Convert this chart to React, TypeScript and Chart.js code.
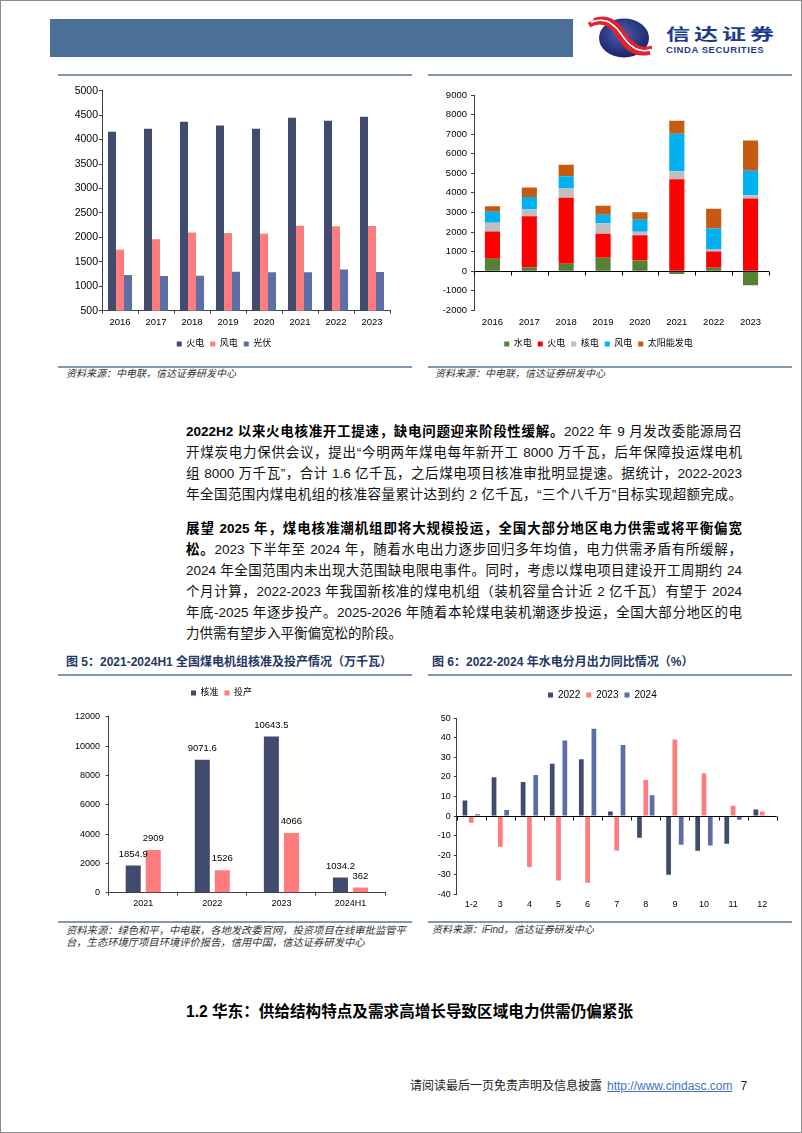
import React, { useEffect, useRef } from "react";
import { Chart, registerables } from "chart.js";

Chart.register(...registerables);

// ---------- data ----------
const years = ["2016", "2017", "2018", "2019", "2020", "2021", "2022", "2023"];
const thermalHours = [4160, 4220, 4365, 4290, 4220, 4447, 4386, 4467];
const windHours = [1747, 1959, 2102, 2088, 2075, 2238, 2225, 2232];
const solarHours = [1229, 1209, 1216, 1298, 1284, 1284, 1345, 1291];

const hydroAdd = [630, 200, 375, 680, 545, -150, 170, -715];
const thermalAdd = [1396, 2606, 3371, 1226, 1294, 4700, 835, 3712];
const nuclearAdd = [443, 340, 477, 545, 170, 408, 102, 170];
const windAdd = [562, 647, 630, 426, 613, 1907, 1073, 1243];
const solarAdd = [289, 477, 579, 459, 392, 664, 1004, 1550];

const coalPeriods = ["2021", "2022", "2023", "2024H1"];
const coalApproved = [1854.9, 9071.6, 10643.5, 1034.2];
const coalCommissioned = [2909, 1526, 4066, 362];

const months = ["1-2", "3", "4", "5", "6", "7", "8", "9", "10", "11", "12"];
const hydro2022 = [8.0, 19.8, 17.4, 26.8, 29.0, 2.4, -11.1, -30.0, -17.7, -14.1, 3.4];
const hydro2023 = [-3.4, -15.7, -26.1, -32.9, -34.1, -17.6, 18.4, 39.2, 21.8, 5.3, 2.4];
const hydro2024 = [0.9, 3.1, 21.0, 38.7, 44.7, 36.3, 10.6, -14.7, -15.0, -1.9, null];

// ---------- styles ----------
const FONT = '"Liberation Sans", Arial, "Noto Sans CJK SC", sans-serif';
const AXIS = "#404040";
const NAVY = "#404b6d";
const SALMON = "#ff7c7c";
const SLATE = "#5b6ea6";
const LINE = "#8497b0";
const TITLE = "#1f3864";

const tf = (size: number) => ({ family: FONT, size });

const yAxis = (min: number, max: number, step: number, width: number, size: number, pad: number, stacked = false) => ({
  min,
  max,
  stacked,
  ticks: { stepSize: step, font: tf(size), color: "#000", padding: pad, callback: (v: any) => String(v) },
  grid: { drawOnChartArea: false, drawTicks: true, tickLength: 3, color: AXIS, tickColor: AXIS },
  border: { display: true, color: AXIS, width: 1 },
  afterFit: (s: any) => {
    s.width = width;
  },
});

const xAxisLine = (height: number, size: number, pad: number) => ({
  ticks: { font: tf(size), color: "#000", padding: pad, maxRotation: 0, autoSkip: false },
  grid: { drawOnChartArea: false, drawTicks: true, tickLength: 3, color: AXIS, tickColor: AXIS, offset: true },
  border: { display: true, color: AXIS, width: 1 },
  afterFit: (s: any) => {
    s.height = height;
  },
});

const xAxisFree = (height: number, size: number, pad: number, stacked = false) => ({
  stacked,
  ticks: { font: tf(size), color: "#000", padding: pad, maxRotation: 0, autoSkip: false },
  grid: { display: false, drawTicks: false, tickLength: 0 },
  border: { display: false },
  afterFit: (s: any) => {
    s.height = height;
  },
});

const padAxis = (height: number) => ({
  type: "linear",
  position: "top",
  display: true,
  ticks: { display: false },
  grid: { display: false, drawTicks: false, tickLength: 0 },
  border: { display: false },
  afterFit: (s: any) => {
    s.height = height;
  },
});

const legendOpts = (position: string, size: number) => ({
  position,
  labels: { boxWidth: 5, boxHeight: 5, padding: 6, color: "#000", font: tf(size) },
});

// zero line with tick marks at category boundaries
const zeroLine = {
  id: "zeroLine",
  afterDatasetsDraw(chart: any) {
    const x = chart.scales.x;
    const y = chart.scales.y;
    const y0 = Math.round(y.getPixelForValue(0)) + 0.5;
    const n = chart.data.labels.length;
    const ctx = chart.ctx;
    ctx.save();
    ctx.strokeStyle = "#000";
    ctx.lineWidth = 1;
    ctx.beginPath();
    ctx.moveTo(x.left, y0);
    ctx.lineTo(x.right, y0);
    for (let i = 0; i <= n; i++) {
      const px = Math.round(x.left + ((x.right - x.left) * i) / n) + 0.5;
      ctx.moveTo(px, y0);
      ctx.lineTo(px, y0 + 4);
    }
    ctx.stroke();
    ctx.restore();
  },
};

const valueLabels = {
  id: "valueLabels",
  afterDatasetsDraw(chart: any) {
    const ctx = chart.ctx;
    ctx.save();
    ctx.font = `9.5px ${FONT}`;
    ctx.fillStyle = "#000";
    ctx.textAlign = "center";
    ctx.textBaseline = "middle";
    chart.data.datasets.forEach((ds: any, di: number) => {
      const meta = chart.getDatasetMeta(di);
      meta.data.forEach((bar: any, i: number) => {
        ctx.fillText(String(ds.data[i]), bar.x, bar.y - 11.5);
      });
    });
    ctx.restore();
  },
};

const barDs = (cat: number, bar: number) => (d: any) => ({
  ...d,
  borderWidth: 0,
  categoryPercentage: cat,
  barPercentage: bar,
  xAxisID: "x",
  yAxisID: "y",
});

// ---------- configs ----------
const cfgHours = () => ({
  type: "bar",
  data: {
    labels: years,
    datasets: [
      { label: "火电", data: thermalHours, backgroundColor: NAVY },
      { label: "风电", data: windHours, backgroundColor: SALMON },
      { label: "光伏", data: solarHours, backgroundColor: SLATE },
    ].map(barDs(0.667, 1)),
  },
  options: {
    animation: false,
    responsive: false,
    maintainAspectRatio: false,
    layout: { padding: { top: 10.7, right: 22, bottom: 1.5, left: 0 } },
    scales: {
      x: xAxisLine(22.8, 9.5, 2.6),
      y: yAxis(500, 5000, 500, 44, 10.5, 1),
    },
    plugins: { legend: legendOpts("bottom", 9), tooltip: { enabled: false } },
  },
});

const cfgAdd = () => ({
  type: "bar",
  data: {
    labels: years,
    datasets: [
      { label: "水电", data: hydroAdd, backgroundColor: "#548235" },
      { label: "火电", data: thermalAdd, backgroundColor: "#ff0000" },
      { label: "核电", data: nuclearAdd, backgroundColor: "#bfbfbf" },
      { label: "风电", data: windAdd, backgroundColor: "#00b0f0" },
      { label: "太阳能发电", data: solarAdd, backgroundColor: "#c55a11" },
    ].map(barDs(1, 0.41)),
  },
  options: {
    animation: false,
    responsive: false,
    maintainAspectRatio: false,
    layout: { padding: { top: 15, right: 21, bottom: 1.5, left: 0 } },
    scales: {
      x: xAxisFree(23.2, 9.5, 6, true),
      y: yAxis(-2000, 9000, 1000, 46, 9.5, 4, true),
    },
    plugins: { legend: legendOpts("bottom", 9), tooltip: { enabled: false } },
  },
  plugins: [zeroLine],
});

const cfgCoal = () => ({
  type: "bar",
  data: {
    labels: coalPeriods,
    datasets: [
      { label: "核准", data: coalApproved, backgroundColor: NAVY },
      { label: "投产", data: coalCommissioned, backgroundColor: SALMON },
    ].map(barDs(0.58, 0.75)),
  },
  options: {
    animation: false,
    responsive: false,
    maintainAspectRatio: false,
    layout: { padding: { top: 2.5, right: 27, bottom: 7.3, left: 0 } },
    scales: {
      x: xAxisLine(20, 9, 2.9),
      y: yAxis(0, 12000, 2000, 50.7, 9, 5.7),
      pad: padAxis(9.2),
    },
    plugins: { legend: legendOpts("top", 9), tooltip: { enabled: false } },
  },
  plugins: [valueLabels],
});

const cfgHydro = () => ({
  type: "bar",
  data: {
    labels: months,
    datasets: [
      { label: "2022", data: hydro2022, backgroundColor: NAVY },
      { label: "2023", data: hydro2023, backgroundColor: SALMON },
      { label: "2024", data: hydro2024, backgroundColor: SLATE },
    ].map(barDs(0.65, 0.75)),
  },
  options: {
    animation: false,
    responsive: false,
    maintainAspectRatio: false,
    layout: { padding: { top: 4, right: 13.3, bottom: 7.7, left: 0 } },
    scales: {
      x: xAxisFree(18, 9, 5.3),
      y: yAxis(-40, 50, 10, 28.7, 9, 3),
      pad: padAxis(8.3),
    },
    plugins: { legend: legendOpts("top", 10), tooltip: { enabled: false } },
  },
  plugins: [zeroLine],
});

// ---------- components ----------
function ChartCanvas(props: { left: number; top: number; width: number; height: number; make: () => any }) {
  const ref = useRef<HTMLCanvasElement>(null);
  useEffect(() => {
    const chart = new Chart(ref.current as HTMLCanvasElement, props.make());
    return () => chart.destroy();
  }, []);
  return (
    <canvas
      ref={ref}
      width={props.width}
      height={props.height}
      style={{ position: "absolute", left: props.left, top: props.top, width: props.width, height: props.height }}
    />
  );
}

const HLine = (p: { x1: number; x2: number; y: number }) => (
  <div style={{ position: "absolute", left: p.x1, top: p.y - 1, width: p.x2 - p.x1, height: 2, background: LINE }} />
);

type Seg = [string, boolean];
const para1: { segs: Seg[]; full: boolean }[] = [
  { segs: [["2022H2 以来火电核准开工提速，缺电问题迎来阶段性缓解。", true], ["2022 年 9 月发改委能源局召", false]], full: true },
  { segs: [["开煤炭电力保供会议，提出“今明两年煤电每年新开工 8000 万千瓦，后年保障投运煤电机", false]], full: true },
  { segs: [["组 8000 万千瓦”，合计 1.6 亿千瓦，之后煤电项目核准审批明显提速。据统计，2022-2023", false]], full: true },
  { segs: [["年全国范围内煤电机组的核准容量累计达到约 2 亿千瓦，“三个八千万”目标实现超额完成。", false]], full: true },
];
const para2: { segs: Seg[]; full: boolean }[] = [
  { segs: [["展望 2025 年，煤电核准潮机组即将大规模投运，全国大部分地区电力供需或将平衡偏宽", true]], full: true },
  { segs: [["松。", true], ["2023 下半年至 2024 年，随着水电出力逐步回归多年均值，电力供需矛盾有所缓解，", false]], full: true },
  { segs: [["2024 年全国范围内未出现大范围缺电限电事件。同时，考虑以煤电项目建设开工周期约 24", false]], full: true },
  { segs: [["个月计算，2022-2023 年我国新核准的煤电机组（装机容量合计近 2 亿千瓦）有望于 2024", false]], full: true },
  { segs: [["年底-2025 年逐步投产。2025-2026 年随着本轮煤电装机潮逐步投运，全国大部分地区的电", false]], full: true },
  { segs: [["力供需有望步入平衡偏宽松的阶段。", false]], full: false },
];

function Para(p: { top: number; lines: { segs: Seg[]; full: boolean }[] }) {
  return (
    <div style={{ position: "absolute", left: 186, top: p.top, width: 556, fontSize: 13.5, color: "#111" }}>
      {p.lines.map((ln, i) => (
        <div
          key={i}
          style={{
            height: 21,
            lineHeight: "21px",
            textAlign: ln.full ? "justify" : "left",
            textAlignLast: ln.full ? "justify" : "left",
          } as any}
        >
          {ln.segs.map(([t, b], j) => (
            <span key={j} style={{ fontWeight: b ? 700 : 400, color: b ? "#000" : "#111" }}>
              {t}
            </span>
          ))}
        </div>
      ))}
    </div>
  );
}

const srcStyle: React.CSSProperties = {
  position: "absolute",
  fontSize: 10,
  fontStyle: "italic",
  color: "#333",
  whiteSpace: "nowrap",
  lineHeight: "12px",
};

function Logo() {
  return (
    <>
      <svg style={{ position: "absolute", left: 586, top: 16 }} width="66" height="44" viewBox="0 0 66 44">
        <defs>
          <radialGradient id="lg" cx="45%" cy="40%" r="65%">
            <stop offset="0" stopColor="#4b5fb5" />
            <stop offset="1" stopColor="#161f5e" />
          </radialGradient>
        </defs>
        <ellipse cx="38" cy="22" rx="25" ry="19.5" fill="url(#lg)" />
        <path d="M3 9 C 16 2, 26 8, 33 20 S 50 40, 64 36" stroke="#e3222b" strokeWidth="5" fill="none" />
        <path d="M8 4 C 21 -1, 31 6, 38 17 S 55 36, 66 31" stroke="#e3222b" strokeWidth="3.5" fill="none" />
        <path d="M5 6.5 C 18 0.5, 28 7, 35.5 18.5 S 52 38, 65 33.5" stroke="#ffffff" strokeWidth="1.4" fill="none" />
      </svg>
      <div
        style={{
          position: "absolute",
          left: 666,
          top: 20,
          fontSize: 24,
          fontWeight: 700,
          color: "#1d3c8f",
          letterSpacing: 4,
          lineHeight: "30px",
          transform: "scaleY(0.68)",
          transformOrigin: "left center",
          whiteSpace: "nowrap",
        }}
      >
        信达证券
      </div>
      <div
        style={{
          position: "absolute",
          left: 666,
          top: 45,
          fontSize: 9.5,
          fontWeight: 700,
          color: "#1d3c8f",
          letterSpacing: 0.55,
          lineHeight: "10px",
          whiteSpace: "nowrap",
          fontFamily: FONT,
        }}
      >
        CINDA SECURITIES
      </div>
    </>
  );
}

export default function App() {
  return (
    <div
      style={{
        position: "absolute",
        left: 0,
        top: 0,
        width: 802,
        height: 1133,
        background: "#fff",
        overflow: "hidden",
        fontFamily: FONT,
      }}
    >
      {/* header */}
      <div style={{ position: "absolute", left: 50, top: 19, width: 523, height: 38, background: "#4b6f97" }} />
      <Logo />

      <HLine x1={58} x2={412} y={75} />
      <HLine x1={428} x2={792} y={75} />

      <ChartCanvas left={58} top={80} width={354} height={280} make={cfgHours} />
      <ChartCanvas left={428} top={80} width={362} height={280} make={cfgAdd} />

      <HLine x1={58} x2={412} y={367} />
      <HLine x1={428} x2={792} y={367} />
      <div style={{ ...srcStyle, left: 66, top: 368 }}>资料来源：中电联，信达证券研发中心</div>
      <div style={{ ...srcStyle, left: 435, top: 368 }}>资料来源：中电联，信达证券研发中心</div>

      <Para top={420.5} lines={para1} />
      <Para top={517.5} lines={para2} />

      {/* figure titles */}
      <div style={{ position: "absolute", left: 66, top: 654, fontSize: 12, fontWeight: 700, color: TITLE, whiteSpace: "nowrap", lineHeight: "16px" }}>
        图 5：2021-2024H1 全国煤电机组核准及投产情况（万千瓦）
      </div>
      <div style={{ position: "absolute", left: 432, top: 654, fontSize: 12, fontWeight: 700, color: TITLE, whiteSpace: "nowrap", lineHeight: "16px" }}>
        图 6：2022-2024 年水电分月出力同比情况（%）
      </div>
      <HLine x1={58} x2={412} y={675} />
      <HLine x1={428} x2={792} y={675} />

      <ChartCanvas left={58} top={680} width={354} height={240} make={cfgCoal} />
      <ChartCanvas left={428} top={680} width={362} height={240} make={cfgHydro} />

      <HLine x1={58} x2={412} y={922} />
      <HLine x1={428} x2={792} y={922} />
      <div style={{ ...srcStyle, left: 66, top: 925, fontSize: 10.3 }}>
        资料来源：绿色和平，中电联，各地发改委官网，投资项目在线审批监管平
        <br />
        台，生态环境厅项目环境评价报告，信用中国，信达证券研发中心
      </div>
      <div style={{ ...srcStyle, left: 432, top: 924 }}>资料来源：iFind，信达证券研发中心</div>

      {/* section heading */}
      <div style={{ position: "absolute", left: 186, top: 1002, fontSize: 15.6, fontWeight: 700, color: "#000", whiteSpace: "nowrap", lineHeight: "20px" }}>
        1.2 华东：供给结构特点及需求高增长导致区域电力供需仍偏紧张
      </div>

      {/* footer */}
      <div style={{ position: "absolute", left: 410, top: 1078, fontSize: 12, color: "#222", whiteSpace: "nowrap", lineHeight: "16px" }}>
        请阅读最后一页免责声明及信息披露
        <span style={{ color: "#4472c4", textDecoration: "underline", marginLeft: 5 }}>http://www.cindasc.com</span>
        <span style={{ marginLeft: 8 }}>7</span>
      </div>

      {/* page frame */}
      <div style={{ position: "absolute", left: 0, top: 0, width: 802, height: 1133, border: "1px solid #8c8c8c", boxSizing: "border-box", pointerEvents: "none" }} />
    </div>
  );
}
